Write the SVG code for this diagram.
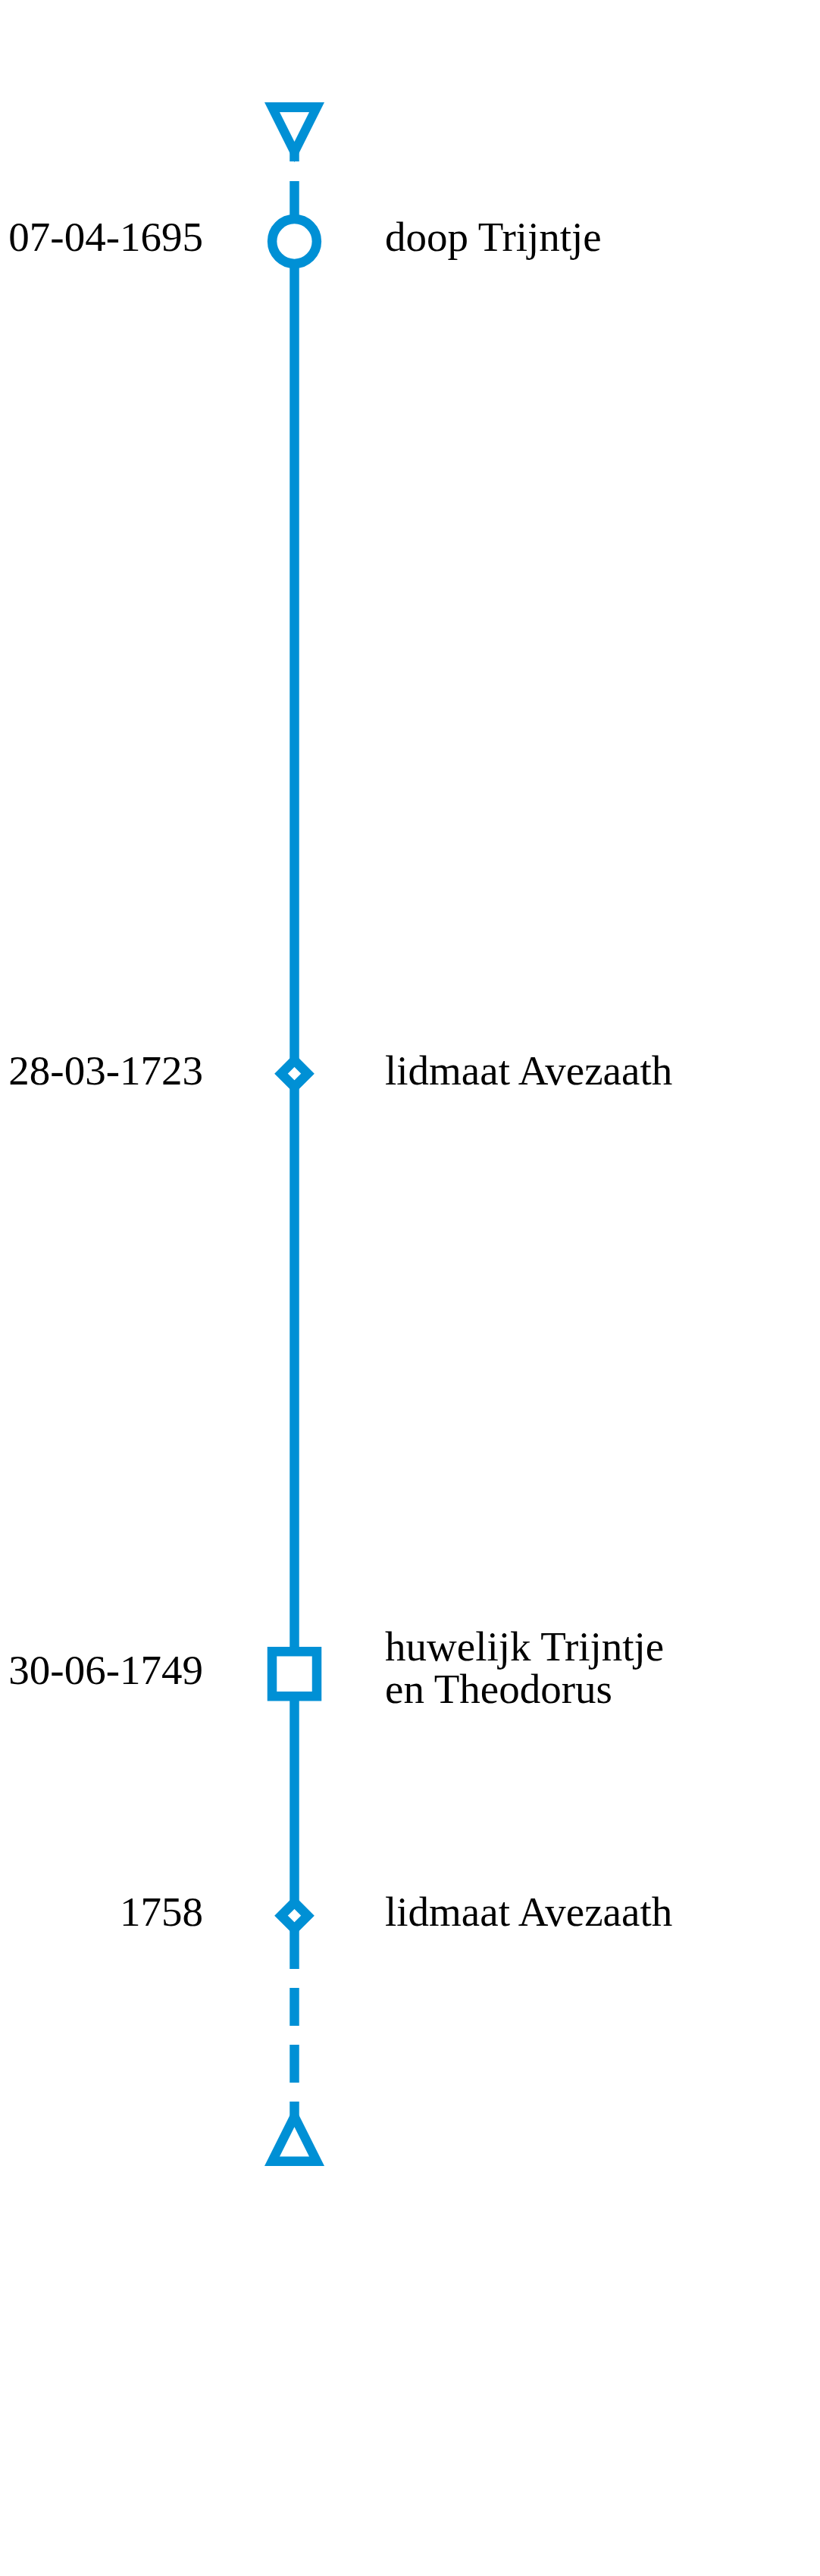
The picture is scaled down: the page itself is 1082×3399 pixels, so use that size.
<svg xmlns="http://www.w3.org/2000/svg" width="1082" height="3399" viewBox="0 0 1082 3399">
<style>
.ln{stroke:#0090d5;stroke-width:12.5;fill:none}
.shp{stroke:#0090d5;stroke-width:12.5;fill:#ffffff}
.blue{fill:#0090d5}
.hole{fill:#ffffff}
.t{font-family:"Liberation Serif","Times New Roman",serif;font-size:55px;fill:#000000}
.r{text-anchor:end}
</style>
<rect width="1082" height="3399" fill="#ffffff"/>
<g id="connectors">
<line class="ln" x1="388.5" y1="200" x2="388.5" y2="213"/>
<line class="ln" x1="388.5" y1="239" x2="388.5" y2="292"/>
<line class="ln" x1="388.5" y1="345" x2="388.5" y2="2598"/>
<line class="ln" x1="388.5" y1="2623" x2="388.5" y2="2673"/>
<line class="ln" x1="388.5" y1="2698" x2="388.5" y2="2748"/>
<line class="ln" x1="388.5" y1="2773" x2="388.5" y2="2795"/>
</g>
<g id="start">
<polygon class="blue" points="349,135 428,135 388.5,214"/>
<polygon class="hole" points="369,148 408,148 388.5,187"/>
</g>
<g id="event1">
<circle class="shp" cx="388.5" cy="318.5" r="29.4"/>
<text class="t r" x="268" y="331">07-04-1695</text>
<text class="t" x="508" y="331">doop Trijntje</text>
</g>
<g id="event2">
<polygon class="shp" points="388.5,1399.2 406,1416.7 388.5,1434.2 371,1416.7"/>
<text class="t r" x="268" y="1430.5">28-03-1723</text>
<text class="t" x="508" y="1430.5">lidmaat Avezaath</text>
</g>
<g id="event3">
<rect class="shp" x="359" y="2179.2" width="59" height="59"/>
<text class="t r" x="268" y="2221.7">30-06-1749</text>
<text class="t" x="508" y="2190.7">huwelijk Trijntje</text>
<text class="t" x="508" y="2247.3">en Theodorus</text>
</g>
<g id="event4">
<polygon class="shp" points="388.5,2510.2 406,2527.7 388.5,2545.2 371,2527.7"/>
<text class="t r" x="268" y="2540.5">1758</text>
<text class="t" x="508" y="2540.5">lidmaat Avezaath</text>
</g>
<g id="end">
<polygon class="blue" points="349,2858 428,2858 388.5,2779"/>
<polygon class="hole" points="369,2845.5 408,2845.5 388.5,2806.5"/>
</g>
</svg>
